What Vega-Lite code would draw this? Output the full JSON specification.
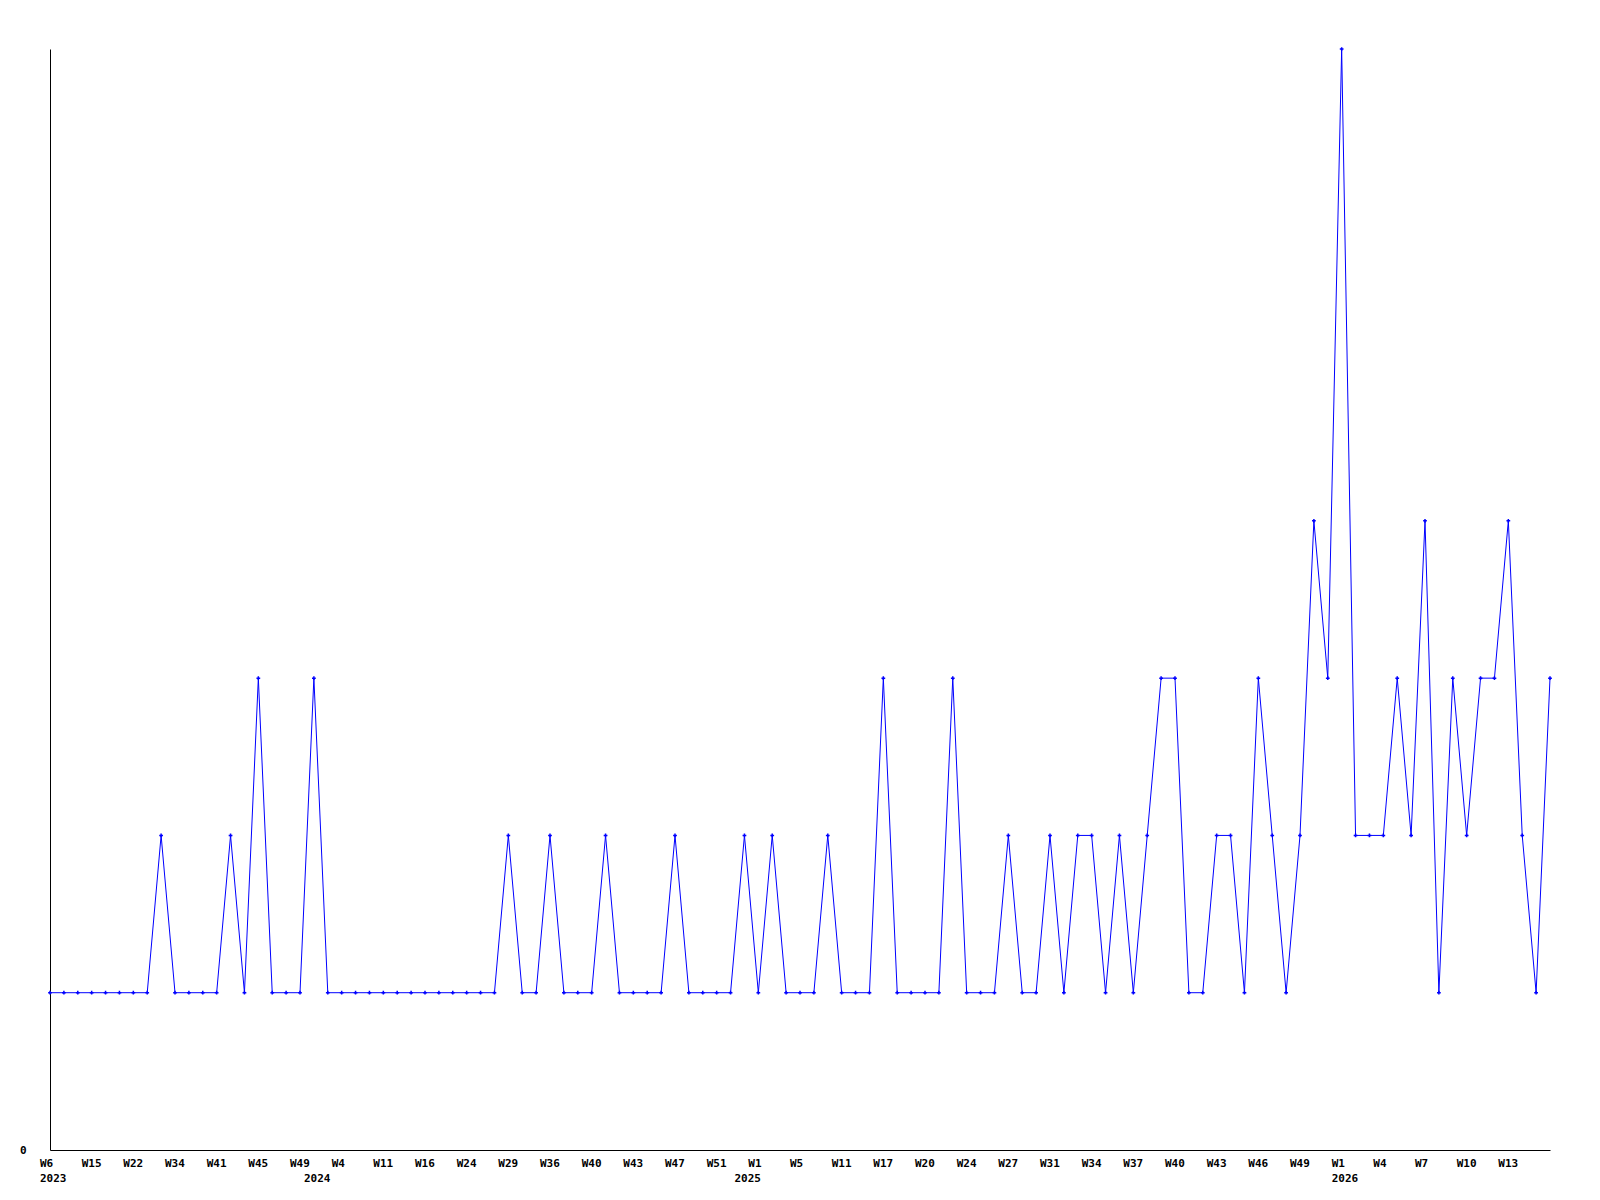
{
  "$schema": "https://vega.github.io/schema/vega-lite/v6.json",
  "width": 1500,
  "height": 1101,
  "autosize": {"type": "none"},
  "padding": {"left": 50, "top": 49, "right": 50, "bottom": 50},
  "background": "white",
  "config": {"view": {"stroke": null}},
  "data": {"values": [
    {"week": "2023-W06", "count": 1}, {"week": "2023-W09", "count": 1}, {"week": "2023-W12", "count": 1},
    {"week": "2023-W15", "count": 1}, {"week": "2023-W17", "count": 1}, {"week": "2023-W20", "count": 1},
    {"week": "2023-W22", "count": 1}, {"week": "2023-W26", "count": 1}, {"week": "2023-W30", "count": 2},
    {"week": "2023-W34", "count": 1}, {"week": "2023-W36", "count": 1}, {"week": "2023-W39", "count": 1},
    {"week": "2023-W41", "count": 1}, {"week": "2023-W42", "count": 2}, {"week": "2023-W44", "count": 1},
    {"week": "2023-W45", "count": 3}, {"week": "2023-W46", "count": 1}, {"week": "2023-W48", "count": 1},
    {"week": "2023-W49", "count": 1}, {"week": "2024-W01", "count": 3}, {"week": "2024-W02", "count": 1},
    {"week": "2024-W04", "count": 1}, {"week": "2024-W06", "count": 1}, {"week": "2024-W08", "count": 1},
    {"week": "2024-W11", "count": 1}, {"week": "2024-W13", "count": 1}, {"week": "2024-W14", "count": 1},
    {"week": "2024-W16", "count": 1}, {"week": "2024-W19", "count": 1}, {"week": "2024-W22", "count": 1},
    {"week": "2024-W24", "count": 1}, {"week": "2024-W26", "count": 1}, {"week": "2024-W27", "count": 1},
    {"week": "2024-W29", "count": 2}, {"week": "2024-W31", "count": 1}, {"week": "2024-W33", "count": 1},
    {"week": "2024-W36", "count": 2}, {"week": "2024-W37", "count": 1}, {"week": "2024-W38", "count": 1},
    {"week": "2024-W40", "count": 1}, {"week": "2024-W41", "count": 2}, {"week": "2024-W42", "count": 1},
    {"week": "2024-W43", "count": 1}, {"week": "2024-W44", "count": 1}, {"week": "2024-W45", "count": 1},
    {"week": "2024-W47", "count": 2}, {"week": "2024-W48", "count": 1}, {"week": "2024-W50", "count": 1},
    {"week": "2024-W51", "count": 1}, {"week": "2024-W52", "count": 1}, {"week": "2025-W00", "count": 2},
    {"week": "2025-W01", "count": 1}, {"week": "2025-W02", "count": 2}, {"week": "2025-W03", "count": 1},
    {"week": "2025-W05", "count": 1}, {"week": "2025-W07", "count": 1}, {"week": "2025-W09", "count": 2},
    {"week": "2025-W11", "count": 1}, {"week": "2025-W13", "count": 1}, {"week": "2025-W15", "count": 1},
    {"week": "2025-W17", "count": 3}, {"week": "2025-W18", "count": 1}, {"week": "2025-W19", "count": 1},
    {"week": "2025-W20", "count": 1}, {"week": "2025-W21", "count": 1}, {"week": "2025-W22", "count": 3},
    {"week": "2025-W24", "count": 1}, {"week": "2025-W25", "count": 1}, {"week": "2025-W26", "count": 1},
    {"week": "2025-W27", "count": 2}, {"week": "2025-W28", "count": 1}, {"week": "2025-W30", "count": 1},
    {"week": "2025-W31", "count": 2}, {"week": "2025-W32", "count": 1}, {"week": "2025-W33", "count": 2},
    {"week": "2025-W34", "count": 2}, {"week": "2025-W35", "count": 1}, {"week": "2025-W36", "count": 2},
    {"week": "2025-W37", "count": 1}, {"week": "2025-W38", "count": 2}, {"week": "2025-W39", "count": 3},
    {"week": "2025-W40", "count": 3}, {"week": "2025-W41", "count": 1}, {"week": "2025-W42", "count": 1},
    {"week": "2025-W43", "count": 2}, {"week": "2025-W44", "count": 2}, {"week": "2025-W45", "count": 1},
    {"week": "2025-W46", "count": 3}, {"week": "2025-W47", "count": 2}, {"week": "2025-W48", "count": 1},
    {"week": "2025-W49", "count": 2}, {"week": "2025-W50", "count": 4}, {"week": "2025-W51", "count": 3},
    {"week": "2026-W01", "count": 7}, {"week": "2026-W02", "count": 2}, {"week": "2026-W03", "count": 2},
    {"week": "2026-W04", "count": 2}, {"week": "2026-W05", "count": 3}, {"week": "2026-W06", "count": 2},
    {"week": "2026-W07", "count": 4}, {"week": "2026-W08", "count": 1}, {"week": "2026-W09", "count": 3},
    {"week": "2026-W10", "count": 2}, {"week": "2026-W11", "count": 3}, {"week": "2026-W12", "count": 3},
    {"week": "2026-W13", "count": 4}, {"week": "2026-W14", "count": 2}, {"week": "2026-W15", "count": 1},
    {"week": "2026-W16", "count": 3}
  ]},
  "encoding": {
    "x": {
      "field": "week",
      "type": "ordinal",
      "sort": null,
      "scale": {"type": "point", "padding": 0},
      "axis": {
        "title": null,
        "values": ["2023-W06", "2023-W15", "2023-W22", "2023-W34", "2023-W41", "2023-W45", "2023-W49",
                   "2024-W01", "2024-W04", "2024-W11", "2024-W16", "2024-W24", "2024-W29", "2024-W36", "2024-W40",
                   "2024-W43", "2024-W47", "2024-W51", "2025-W00", "2025-W01", "2025-W05", "2025-W11", "2025-W17",
                   "2025-W20", "2025-W24", "2025-W27", "2025-W31", "2025-W34", "2025-W37", "2025-W40",
                   "2025-W43", "2025-W46", "2025-W49", "2026-W01", "2026-W04", "2026-W07", "2026-W10",
                   "2026-W13"],
        "labelExpr": "[indexof(['2024-W01','2025-W00'], datum.value) >= 0 ? '' : 'W' + toNumber(substring(datum.value, 6)), indexof(['2023-W06','2024-W01','2025-W00','2026-W01'], datum.value) >= 0 ? substring(datum.value, 0, 4) : '']",
        "labelAngle": 0,
        "labelAlign": "left",
        "labelBaseline": "top",
        "labelFont": "DejaVu Sans Mono",
        "labelFontWeight": "bold",
        "labelFontSize": 11,
        "labelLineHeight": 15,
        "labelColor": "black",
        "labelPadding": 7,
        "labelOverlap": false,
        "labelBound": false,
        "labelFlush": false,
        "labelOffset": -10.5,
        "ticks": false,
        "tickSize": 0,
        "domainColor": "black",
        "domainWidth": 1,
        "grid": false
      }
    },
    "y": {
      "field": "count",
      "type": "quantitative",
      "scale": {"domain": [0, 7], "nice": false, "zero": true},
      "axis": {
        "title": null,
        "values": [0],
        "labelFont": "DejaVu Sans Mono",
        "labelFontWeight": "bold",
        "labelFontSize": 11,
        "labelColor": "black",
        "labelPadding": 24,
        "ticks": false,
        "tickSize": 0,
        "domainColor": "black",
        "domainWidth": 1,
        "grid": false
      }
    }
  },
  "layer": [
    {"mark": {"type": "line", "color": "#0000ff", "strokeWidth": 1, "interpolate": "linear"}},
    {"mark": {"type": "point", "shape": "cross", "size": 14, "filled": true, "color": "#0000ff", "opacity": 1}}
  ]
}
